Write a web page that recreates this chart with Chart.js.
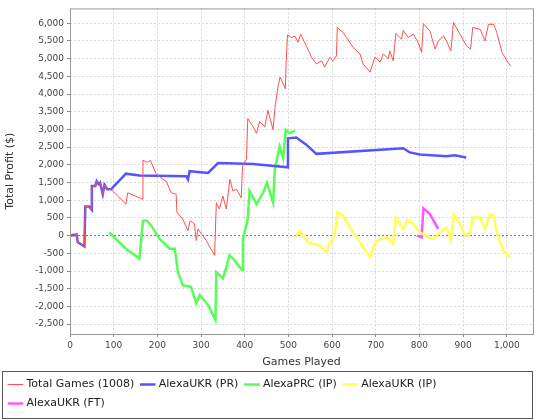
<!DOCTYPE html>
<html>
<head>
<meta charset="utf-8">
<script src="https://cdn.jsdelivr.net/npm/chart.js@4"></script>
<style>
  body { margin: 0; background: #fff; }
  #wrap { width: 540px; height: 420px; }
</style>
</head>
<body>
<div id="wrap"><canvas id="c"></canvas></div>
<script>
// series values: [games, profit]
const totalGames = [[0,0],[10,-20],[15,50],[18,-190],[33,-310],[35,820],[44,820],[50,730],[50,1400],[58,1400],[61,1540],[66,1450],[69,1490],[75,1170],[79,1430],[85,1310],[94,1310],[109,1120],[128,890],[132,1210],[159,1070],[165,1030],[167,2130],[178,2070],[184,2130],[197,1750],[213,1590],[220,1540],[232,1210],[243,1170],[245,650],[258,470],[270,140],[275,420],[285,330],[289,-140],[293,190],[312,-140],[331,-560],[335,930],[342,750],[350,1120],[358,750],[366,1590],[373,1260],[381,1310],[392,1070],[395,1960],[404,2150],[407,3310],[419,3080],[427,2890],[434,3220],[446,3080],[453,3540],[465,2990],[469,3590],[476,4200],[481,4480],[493,4150],[495,4940],[498,5670],[507,5600],[515,5640],[522,5460],[528,5690],[541,5360],[553,5040],[564,4850],[576,4940],[583,4760],[595,5040],[602,4940],[610,5080],[612,5880],[625,5740],[633,5600],[648,5320],[664,5130],[671,4850],[687,4620],[698,5040],[710,4900],[717,5130],[729,5000],[732,5220],[740,4940],[746,5710],[759,5550],[763,5800],[774,5600],[786,5690],[797,5460],[805,5180],[809,5990],[824,5780],[836,5270],[843,5500],[855,5640],[862,5500],[872,5220],[878,6020],[893,5690],[908,5360],[917,5270],[922,5880],[939,5830],[950,5500],[958,5970],[970,5970],[977,5740],[989,5180],[1000,4940],[1009,4790]];
const ukrPR = [[0,0],[15,30],[18,-190],[33,-310],[35,820],[44,820],[50,730],[50,1400],[58,1400],[61,1540],[66,1450],[69,1490],[75,1170],[79,1430],[85,1310],[94,1310],[128,1750],[159,1700],[266,1680],[270,1590],[274,1820],[316,1770],[339,2050],[419,2020],[499,1930],[499,2750],[518,2770],[541,2570],[564,2310],[763,2470],[778,2350],[801,2290],[862,2240],[881,2270],[907,2210]];
const prcIP = [[90,90],[128,-370],[159,-650],[167,420],[176,420],[186,280],[205,-90],[228,-370],[240,-370],[247,-1030],[258,-1400],[277,-1450],[289,-1910],[297,-1680],[316,-1960],[333,-2380],[335,-1030],[350,-1210],[358,-890],[365,-560],[377,-700],[394,-980],[396,-90],[407,470],[411,1260],[427,890],[442,1210],[451,1490],[465,930],[469,1870],[480,2520],[488,2190],[494,2990],[503,2890],[515,2970]];
const ukrIP = [[517,-50],[526,140],[545,-190],[572,-280],[587,-470],[595,-190],[606,0],[612,650],[625,560],[648,90],[671,-330],[687,-610],[698,-190],[713,-90],[725,-50],[740,-230],[746,510],[763,190],[771,420],[786,330],[801,90],[813,0],[832,-90],[847,90],[862,230],[872,-140],[879,610],[893,330],[904,0],[916,90],[922,510],[939,510],[950,190],[962,610],[970,560],[977,90],[992,-420],[1008,-610]];
const ukrFT = [[794,0],[805,-50],[809,770],[824,610],[843,190]];

const seriesNames = ["Total Games (1008)", "AlexaUKR (PR)", "AlexaPRC (IP)", "AlexaUKR (IP)", "AlexaUKR (FT)"];
const seriesColors = ["#ff5050", "#5555ff", "#55ff55", "#ffff55", "#ff55ff"];
const seriesData = [totalGames, ukrPR, prcIP, ukrIP, ukrFT];

const fmt = v => Number(v).toLocaleString("en-US");

const datasets = seriesData.map((d, i) => ({
    label: seriesNames[i],
    data: d.map(p => ({ x: p[0], y: p[1] })),
    borderColor: seriesColors[i],
    backgroundColor: seriesColors[i],
    borderWidth: i === 0 ? 1 : 2.5,
    pointRadius: 0,
    tension: 0
}));
// zero marker line
datasets.push({
    label: "zero",
    data: [{ x: 0, y: 0 }, { x: 1060, y: 0 }],
    borderColor: "#6666dd",
    borderWidth: 1,
    borderDash: [2, 2],
    pointRadius: 0
});

// border around plot area and legend
const frames = {
    id: "frames",
    afterDraw(chart) {
        const ctx = chart.ctx, a = chart.chartArea, l = chart.legend;
        ctx.save();
        ctx.strokeStyle = "#999";
        ctx.lineWidth = 1;
        ctx.strokeRect(a.left + 0.5, a.top + 0.5, a.right - a.left, a.bottom - a.top);
        ctx.strokeStyle = "#555";
        ctx.strokeRect(l.left + 0.5, l.top + 0.5, l.width - 1, l.height - 1);
        ctx.restore();
    }
};

new Chart(document.getElementById("c"), {
    type: "line",
    data: { datasets: datasets },
    plugins: [frames],
    options: {
        responsive: true,
        maintainAspectRatio: false,
        animation: false,
        layout: { padding: { left: 2, right: 7, top: 4, bottom: 1 } },
        scales: {
            x: {
                type: "linear",
                min: 0, max: 1060,
                afterBuildTicks: ax => { ax.ticks = [0,100,200,300,400,500,600,700,800,900,1000].map(v => ({ value: v })); },
                ticks: { callback: fmt, font: { size: 9, family: "DejaVu Sans" }, color: "#444", maxRotation: 0 },
                grid: { color: "#d8d8d8", tickColor: "#888", tickLength: 3 },
                border: { dash: [2, 2], display: false },
                title: { display: true, text: "Games Played", font: { size: 11, family: "DejaVu Sans" }, color: "#333", padding: 2 }
            },
            y: {
                type: "linear",
                min: -2780, max: 6420,
                afterBuildTicks: ax => {
                    const t = [];
                    for (let v = -2500; v <= 6000; v += 500) t.push({ value: v });
                    ax.ticks = t;
                },
                afterFit: ax => { ax.width = 68; },
                ticks: { callback: fmt, font: { size: 9, family: "DejaVu Sans" }, color: "#444" },
                grid: { color: "#d8d8d8", tickColor: "#888", tickLength: 3 },
                border: { dash: [2, 2], display: false },
                title: { display: true, text: "Total Profit ($)", font: { size: 11, family: "DejaVu Sans" }, color: "#333", padding: 2 }
            }
        },
        plugins: {
            legend: {
                position: "bottom",
                align: "start",
                labels: {
                    filter: item => item.text !== "zero",
                    usePointStyle: true,
                    pointStyle: "line",
                    boxWidth: 18,
                    padding: 8,
                    font: { size: 11, family: "DejaVu Sans" },
                    color: "#222"
                }
            },
            tooltip: { enabled: false }
        }
    }
});
</script>
</body>
</html>
